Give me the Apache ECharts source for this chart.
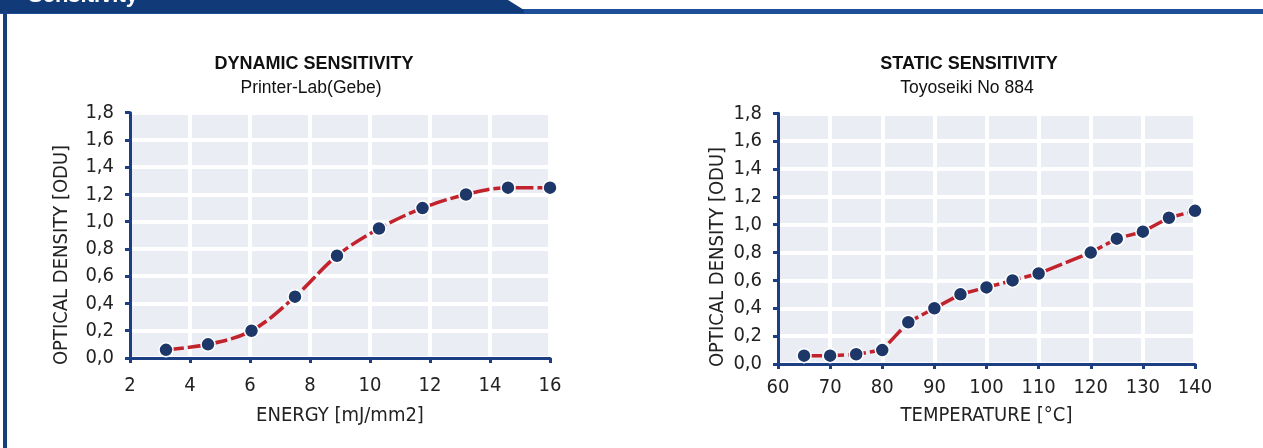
<!DOCTYPE html>
<html>
<head>
<meta charset="utf-8">
<script src="https://cdn.jsdelivr.net/npm/echarts@6/dist/echarts.min.js"></script>
<style>
html,body{margin:0;padding:0;background:#fff;}
#c{width:1263px;height:448px;}
</style>
</head>
<body>
<div id="c"></div>
<script>
// ---- data ----
const energy = [3.2, 4.6, 6.05, 7.5, 8.9, 10.3, 11.75, 13.2, 14.6, 16];
const dynamicOD = [0.06, 0.10, 0.20, 0.45, 0.75, 0.95, 1.10, 1.20, 1.25, 1.25];
const temperature = [65, 70, 75, 80, 85, 90, 95, 100, 105, 110, 120, 125, 130, 135, 140];
const staticOD = [0.06, 0.06, 0.07, 0.10, 0.30, 0.40, 0.50, 0.55, 0.60, 0.65, 0.80, 0.90, 0.95, 1.05, 1.10];
const energyTicks = [2, 4, 6, 8, 10, 12, 14, 16];
const tempTicks = [60, 70, 80, 90, 100, 110, 120, 130, 140];
const odTicks = ['0,0','0,2','0,4','0,6','0,8','1,0','1,2','1,4','1,6','1,8'];

const NARROW = "'DejaVu Sans Condensed','Liberation Sans Narrow',sans-serif";
const SANS = "'Liberation Sans',Arial,sans-serif";
const AXIS = '#1b3f82';
const LINE = '#c2222c';
const DOT = '#1d3768';

const chart = echarts.init(document.getElementById('c'), null, {renderer: 'canvas'});

function xAxisCfg(idx, ticks, name, gap, margin) {
  return {
    type: 'value', gridIndex: idx, min: ticks[0], max: ticks[ticks.length - 1],
    interval: ticks[1] - ticks[0],
    name: name, nameLocation: 'middle', nameGap: gap,
    nameTextStyle: {fontFamily: NARROW, fontSize: 20, color: '#222'},
    axisLine: {show: true, lineStyle: {color: AXIS, width: 3}},
    axisTick: {show: true, length: 5, lineStyle: {color: AXIS, width: 3}},
    axisLabel: {fontFamily: NARROW, fontSize: 20, color: '#222', margin: margin},
    splitLine: {show: true, lineStyle: {color: '#ffffff', width: 4}}
  };
}
function yAxisCfg(idx) {
  return {
    type: 'value', gridIndex: idx, min: 0, max: 1.8, interval: 0.2,
    axisLine: {show: true, lineStyle: {color: AXIS, width: 3}},
    axisTick: {show: true, length: 5, lineStyle: {color: AXIS, width: 3}},
    axisLabel: {fontFamily: NARROW, fontSize: 20, color: '#222', margin: 16,
      formatter: function (v) { return odTicks[Math.round(v / 0.2)]; }},
    splitLine: {show: true, lineStyle: {color: '#ffffff', width: 4}}
  };
}

const option = {
  animation: false,
  backgroundColor: '#ffffff',
  grid: [
    {left: 130, top: 112.7, width: 420, height: 245.3, show: true, backgroundColor: '#eaedf3', borderWidth: 0},
    {left: 778, top: 113.3, width: 417, height: 250.7, show: true, backgroundColor: '#eaedf3', borderWidth: 0}
  ],
  xAxis: [
    xAxisCfg(0, energyTicks, 'ENERGY [mJ/mm2]', 48, 18),
    xAxisCfg(1, tempTicks, 'TEMPERATURE [°C]', 42, 14)
  ],
  yAxis: [yAxisCfg(0), yAxisCfg(1)],
  series: [
    {
      type: 'line', xAxisIndex: 0, yAxisIndex: 0, smooth: 0.35,
      data: energy.map((e, i) => [e, dynamicOD[i]]),
      symbol: 'circle', symbolSize: 14,
      lineStyle: {color: LINE, width: 3.5, type: [18, 4]},
      itemStyle: {color: DOT, borderColor: '#ffffff', borderWidth: 1.5}
    },
    {
      type: 'line', xAxisIndex: 1, yAxisIndex: 1, smooth: false,
      data: temperature.map((t, i) => [t, staticOD[i]]),
      symbol: 'circle', symbolSize: 14,
      lineStyle: {color: LINE, width: 3.5, type: [18, 4]},
      itemStyle: {color: DOT, borderColor: '#ffffff', borderWidth: 1.5}
    }
  ],
  graphic: [
    // header bar and tab
    {type: 'rect', shape: {x: 0, y: 9, width: 1263, height: 5}, style: {fill: '#1c4f98'}, silent: true},
    {type: 'polygon', shape: {points: [[0, 0], [508, 0], [524, 10], [524, 13], [0, 13]]}, style: {fill: '#113a78'}, silent: true},
    {type: 'rect', shape: {x: 3, y: 10, width: 4, height: 438}, style: {fill: '#173f80'}, silent: true},
    {type: 'text', x: 28, y: 7, style: {text: 'Sensitivity', fill: '#ffffff', font: 'bold 22px ' + SANS, textVerticalAlign: 'bottom'}, silent: true},
    // titles
    {type: 'text', x: 314, y: 64, style: {text: 'DYNAMIC SENSITIVITY', fill: '#111', font: 'bold 18px ' + SANS, textAlign: 'center', textVerticalAlign: 'middle'}, silent: true},
    {type: 'text', x: 311, y: 88, style: {text: 'Printer-Lab(Gebe)', fill: '#111', font: '17.5px ' + SANS, textAlign: 'center', textVerticalAlign: 'middle'}, silent: true},
    {type: 'text', x: 969, y: 64, style: {text: 'STATIC SENSITIVITY', fill: '#111', font: 'bold 18px ' + SANS, textAlign: 'center', textVerticalAlign: 'middle'}, silent: true},
    {type: 'text', x: 967, y: 88, style: {text: 'Toyoseiki No 884', fill: '#111', font: '17.5px ' + SANS, textAlign: 'center', textVerticalAlign: 'middle'}, silent: true},
    // y axis names
    {type: 'text', x: 62, y: 255, rotation: Math.PI / 2, style: {text: 'OPTICAL DENSITY [ODU]', fill: '#222', font: '20px ' + NARROW, textAlign: 'center', textVerticalAlign: 'middle'}, silent: true},
    {type: 'text', x: 718, y: 257, rotation: Math.PI / 2, style: {text: 'OPTICAL DENSITY [ODU]', fill: '#222', font: '20px ' + NARROW, textAlign: 'center', textVerticalAlign: 'middle'}, silent: true}
  ]
};
chart.setOption(option);
</script>
</body>
</html>
